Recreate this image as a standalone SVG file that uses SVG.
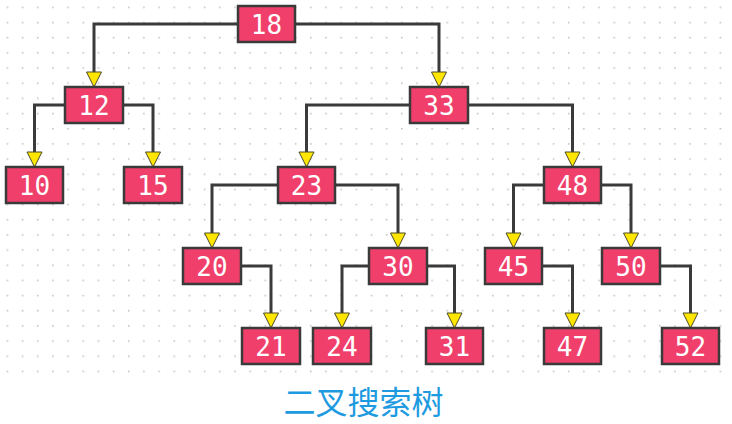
<svg xmlns="http://www.w3.org/2000/svg" width="732" height="424" viewBox="0 0 732 424">
<defs>
<pattern id="dots" x="0" y="0" width="15.17" height="15.17" patternUnits="userSpaceOnUse">
<circle cx="7.4" cy="7.4" r="0.9" fill="#c4c4c4"/>
</pattern>
</defs>
<style>
.n rect{fill:#F03F6B;stroke:#3a3a3a;stroke-width:2.5}
.n text{fill:#ffffff;font-family:"DejaVu Sans Mono","Liberation Mono",monospace;font-size:26px;text-anchor:middle}
.c path{fill:none;stroke:#3a3a3a;stroke-width:3}
.c polygon{fill:#FFE600;stroke:#4a4a2a;stroke-width:1}
.t{fill:#1E9BE0;font-family:"Noto Sans CJK SC","Noto Sans",sans-serif;font-size:32px;text-anchor:middle}
</style>
<rect width="732" height="424" fill="#ffffff"/>
<rect x="0" y="0" width="725" height="380" fill="url(#dots)"/>
<g id="connectors" class="c">
<path d="M238,24 H94 V72"/><polygon points="86.5,72 101.5,72 94,87"/>
<path d="M295,24 H439 V72"/><polygon points="431.5,72 446.5,72 439,87"/>
<path d="M65,105 H34.5 V152"/><polygon points="27,152 42,152 34.5,167"/>
<path d="M123,105 H153 V152"/><polygon points="145.5,152 160.5,152 153,167"/>
<path d="M410,105 H306.5 V152"/><polygon points="299,152 314,152 306.5,167"/>
<path d="M468,105 H572.5 V152"/><polygon points="565,152 580,152 572.5,167"/>
<path d="M278,185 H212 V233"/><polygon points="204.5,233 219.5,233 212,248"/>
<path d="M335,185 H398 V233"/><polygon points="390.5,233 405.5,233 398,248"/>
<path d="M544,185 H513.5 V233"/><polygon points="506,233 521,233 513.5,248"/>
<path d="M601,185 H631 V233"/><polygon points="623.5,233 638.5,233 631,248"/>
<path d="M241,266 H271 V313"/><polygon points="263.5,313 278.5,313 271,328"/>
<path d="M369,266 H342 V313"/><polygon points="334.5,313 349.5,313 342,328"/>
<path d="M427,266 H454.5 V313"/><polygon points="447,313 462,313 454.5,328"/>
<path d="M542,266 H572.5 V313"/><polygon points="565,313 580,313 572.5,328"/>
<path d="M660,266 H690.5 V313"/><polygon points="683,313 698,313 690.5,328"/>
</g>
<g id="n18" class="n"><rect x="238" y="6" width="57" height="36"/><text x="266.5" y="33.5">18</text></g>
<g id="n12" class="n"><rect x="65" y="87" width="58" height="36"/><text x="94" y="114.5">12</text></g>
<g id="n33" class="n"><rect x="410" y="87" width="58" height="36"/><text x="439" y="114.5">33</text></g>
<g id="n10" class="n"><rect x="6" y="167" width="57" height="36"/><text x="34.5" y="194.5">10</text></g>
<g id="n15" class="n"><rect x="124" y="167" width="58" height="36"/><text x="153" y="194.5">15</text></g>
<g id="n23" class="n"><rect x="278" y="167" width="57" height="36"/><text x="306.5" y="194.5">23</text></g>
<g id="n48" class="n"><rect x="544" y="167" width="57" height="36"/><text x="572.5" y="194.5">48</text></g>
<g id="n20" class="n"><rect x="183" y="248" width="58" height="36"/><text x="212" y="275.5">20</text></g>
<g id="n30" class="n"><rect x="369" y="248" width="58" height="36"/><text x="398" y="275.5">30</text></g>
<g id="n45" class="n"><rect x="485" y="248" width="57" height="36"/><text x="513.5" y="275.5">45</text></g>
<g id="n50" class="n"><rect x="602" y="248" width="58" height="36"/><text x="631" y="275.5">50</text></g>
<g id="n21" class="n"><rect x="242" y="328" width="58" height="36"/><text x="271" y="355.5">21</text></g>
<g id="n24" class="n"><rect x="313" y="328" width="58" height="36"/><text x="342" y="355.5">24</text></g>
<g id="n31" class="n"><rect x="426" y="328" width="57" height="36"/><text x="454.5" y="355.5">31</text></g>
<g id="n47" class="n"><rect x="544" y="328" width="57" height="36"/><text x="572.5" y="355.5">47</text></g>
<g id="n52" class="n"><rect x="662" y="328" width="57" height="36"/><text x="690.5" y="355.5">52</text></g>
<text class="t" x="363.5" y="414">二叉搜索树</text>
</svg>
